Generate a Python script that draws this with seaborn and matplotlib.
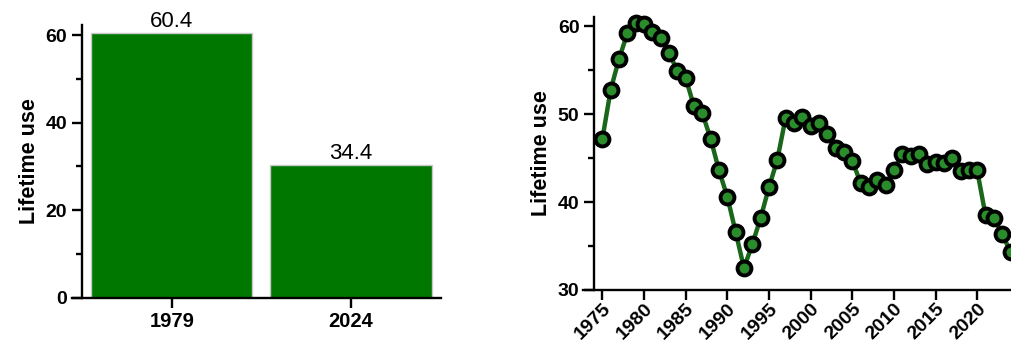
import numpy as np
import pandas as pd
import seaborn as sns
import matplotlib.pyplot as plt
import matplotlib.transforms as mtransforms
from matplotlib.ticker import MultipleLocator

# bar chart data
bar_years = ["1979", "2024"]
bar_values = [60.4, 30.2]
bar_labels = ["60.4", "34.4"]

# yearly series
years = list(range(1975, 2025))
lifetime_use = [
    47.2, 52.8, 56.3, 59.2, 60.4, 60.3, 59.4, 58.7, 57.0, 54.9,
    54.1, 50.9, 50.1, 47.2, 43.6, 40.6, 36.6, 32.5, 35.2, 38.2,
    41.7, 44.8, 49.6, 49.0, 49.7, 48.7, 49.0, 47.7, 46.1, 45.7,
    44.7, 42.2, 41.7, 42.5, 41.9, 43.7, 45.5, 45.2, 45.5, 44.3,
    44.6, 44.4, 45.0, 43.5, 43.6, 43.6, 38.5, 38.2, 36.4, 34.3,
]

BAR_GREEN = "#007800"
LINE_GREEN = "#1a661a"
DOT_GREEN = "#2a8c2a"

sns.set_style("ticks")
plt.rcParams['font.family'] = ['Liberation Sans', 'DejaVu Sans']
plt.rcParams['font.weight'] = 'bold'
plt.rcParams['axes.linewidth'] = 1.7
for key in ('text.color', 'axes.labelcolor', 'xtick.color', 'ytick.color', 'axes.edgecolor'):
    plt.rcParams[key] = 'black'

fig = plt.figure(figsize=(10.11, 3.56), dpi=100)

# left: bar chart
ax1 = fig.add_axes([0.0709, 0.1638, 0.365, 0.766])
bar_df = pd.DataFrame({"year": bar_years, "value": bar_values})
sns.barplot(data=bar_df, x="year", y="value", color=BAR_GREEN, saturation=1,
            width=0.9, edgecolor="#c8c8c8", linewidth=1, ax=ax1)
ax1.bar_label(ax1.containers[0], labels=bar_labels, padding=1,
              fontsize=16, fontweight='normal')
ax1.set_xlim(-0.558, 1.5)
ax1.set_ylim(0, 62.3)
ax1.spines['left'].set_position(('data', -0.502))
ax1.yaxis.set_major_locator(MultipleLocator(20))
ax1.yaxis.set_minor_locator(MultipleLocator(10))
ax1.set_xlabel("")
ax1.set_ylabel("Lifetime use", fontsize=15.5, fontweight='bold', labelpad=4)

# right: yearly line
ax2 = fig.add_axes([0.5764, 0.1854, 0.4236, 0.768])
sns.lineplot(x=years, y=lifetime_use, color=LINE_GREEN, linewidth=3.2,
             marker='o', markersize=10, markerfacecolor=DOT_GREEN,
             markeredgecolor='black', markeredgewidth=2.8, clip_on=False,
             ax=ax2)
ax2.set_xlim(1972.64, 2024.06)
ax2.set_ylim(30, 61.1)
ax2.spines['left'].set_position(('data', 1974.0))
ax2.xaxis.set_major_locator(MultipleLocator(5))
ax2.yaxis.set_major_locator(MultipleLocator(10))
ax2.yaxis.set_minor_locator(MultipleLocator(5))
ax2.set_ylabel("Lifetime use", fontsize=15.5, fontweight='bold', labelpad=4)

for ax in (ax1, ax2):
    sns.despine(ax=ax)
    ax.tick_params(axis='both', which='major', length=7, width=1.7,
                   labelsize=14, color='black')
    ax.tick_params(axis='y', which='minor', length=4.5, width=1.7, color='black')

ax1.tick_params(axis='x', labelsize=14.5)
ax2.tick_params(axis='x', labelsize=14)

shift = mtransforms.ScaledTranslation(6 / 100, -2 / 100, fig.dpi_scale_trans)
for ax in (ax1, ax2):
    for lab in ax.get_xticklabels() + ax.get_yticklabels():
        lab.set_fontweight('bold')
for lab in ax2.get_xticklabels():
    lab.set_rotation(45)
    lab.set_ha('right')
    lab.set_rotation_mode('anchor')
    lab.set_va('center')
    lab.set_transform(lab.get_transform() + shift)

fig.savefig("out.png", dpi=100)
